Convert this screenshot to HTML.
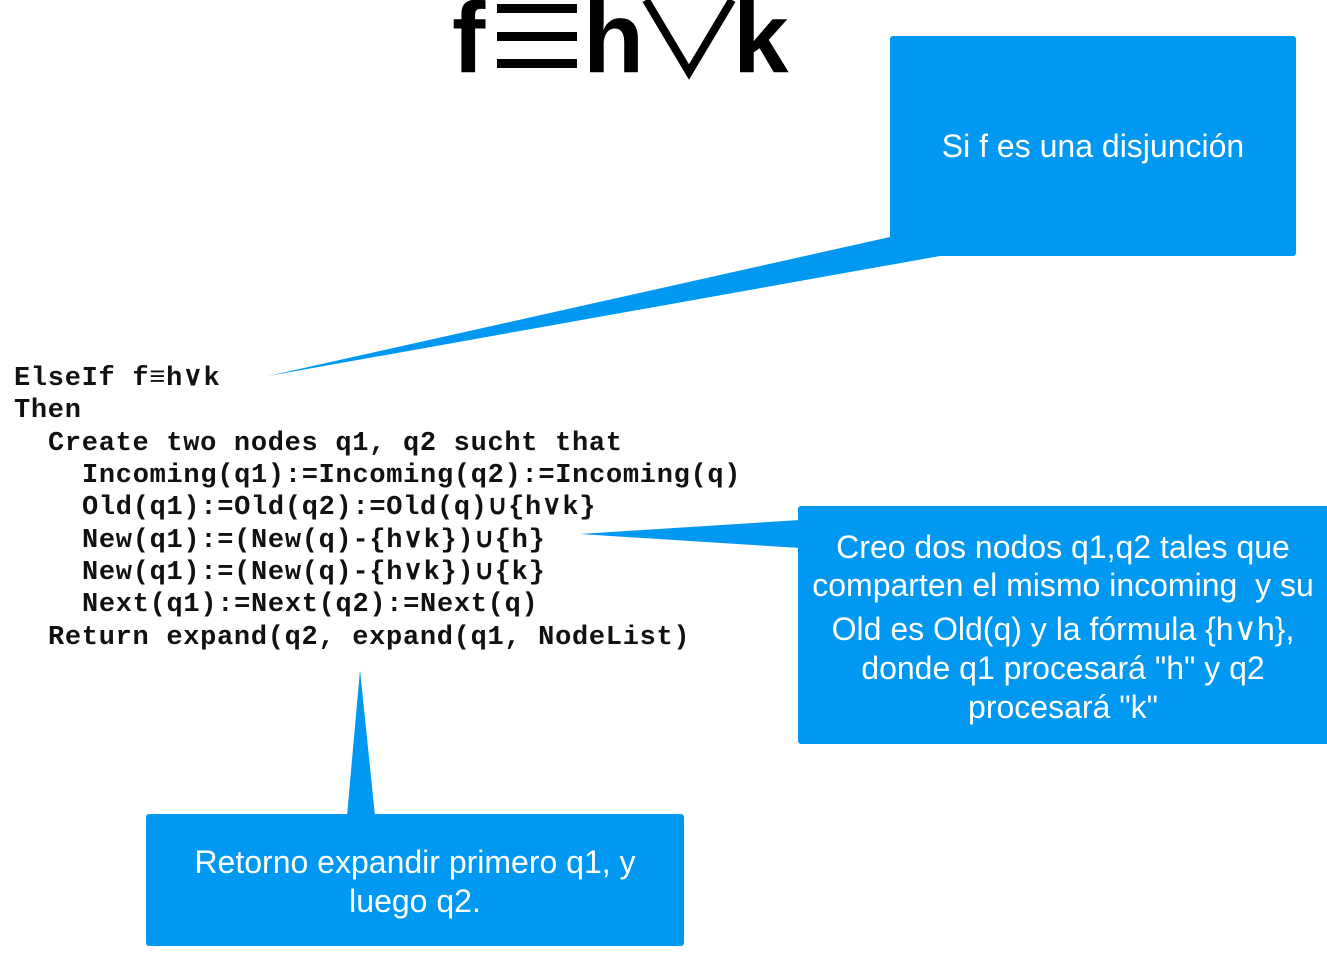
<!DOCTYPE html>
<html><head><meta charset="utf-8"><style>
body{margin:0;width:1327px;height:953px;background:#fff;position:relative;overflow:hidden}
.t{position:absolute;white-space:pre;line-height:1}
.code{font-family:"Liberation Mono",monospace;font-weight:bold;font-size:27px;letter-spacing:0.7px;color:#111}
.w{font-family:"Liberation Sans",sans-serif;font-size:32px;color:#fff;text-align:center;left:0;right:0}
.box{position:absolute;background:#0098f0;border-radius:3px}
</style></head><body>
<svg width="1327" height="953" style="position:absolute;left:0;top:0">
<g font-family="Liberation Sans, sans-serif" font-weight="bold" font-size="100" fill="#000">
<text x="452" y="72">f</text>
<text x="583" y="72">h</text>
<text x="733" y="72">k</text>
</g>
<rect x="497" y="4" width="80" height="9" fill="#000"/>
<rect x="497" y="32" width="80" height="9" fill="#000"/>
<rect x="497" y="59" width="80" height="9" fill="#000"/>
<polyline points="646,0 689,72 732,0" fill="none" stroke="#000" stroke-width="8"/>
<polygon points="890,237 940,256 268,376" fill="#0098f0"/>
<polygon points="800,520 800,548 580,534" fill="#0098f0"/>
<polygon points="347,816 375,816 360,670" fill="#0098f0"/>
</svg>
<div class="box" style="left:890px;top:36px;width:406px;height:220px">
<div class="t w" style="top:94px">Si f es una disjunción</div></div>
<div class="box" style="left:798px;top:506px;width:540px;height:238px">
<div class="t w" style="top:25px;left:-10px">Creo dos nodos q1,q2 tales que</div>
<div class="t w" style="top:63px;left:-10px">comparten el mismo incoming  y su</div>
<div class="t w" style="top:107px;left:-10px">Old es Old(q) y la fórmula {h∨h},</div>
<div class="t w" style="top:146px;left:-10px">donde q1 procesará "h" y q2</div>
<div class="t w" style="top:185px;left:-10px">procesará "k"</div></div>
<div class="box" style="left:146px;top:814px;width:538px;height:132px">
<div class="t w" style="top:32px">Retorno expandir primero q1, y</div>
<div class="t w" style="top:71px">luego q2.</div></div>
<div class="t code" style="left:14px;top:366px">ElseIf f≡h∨k</div>
<div class="t code" style="left:14px;top:398px">Then</div>
<div class="t code" style="left:48px;top:431px">Create two nodes q1, q2 sucht that</div>
<div class="t code" style="left:82px;top:463px">Incoming(q1):=Incoming(q2):=Incoming(q)</div>
<div class="t code" style="left:82px;top:495px">Old(q1):=Old(q2):=Old(q)∪{h∨k}</div>
<div class="t code" style="left:82px;top:528px">New(q1):=(New(q)-{h∨k})∪{h}</div>
<div class="t code" style="left:82px;top:560px">New(q1):=(New(q)-{h∨k})∪{k}</div>
<div class="t code" style="left:82px;top:592px">Next(q1):=Next(q2):=Next(q)</div>
<div class="t code" style="left:48px;top:625px">Return expand(q2, expand(q1, NodeList)</div>
</body></html>
